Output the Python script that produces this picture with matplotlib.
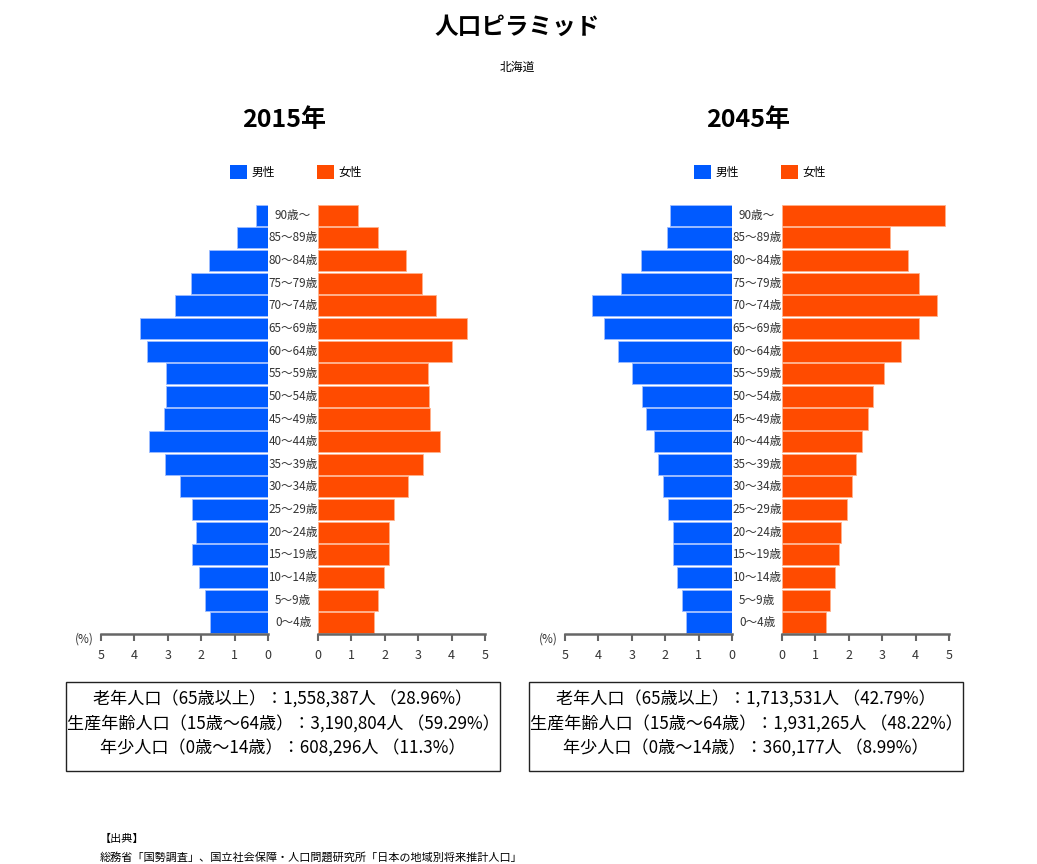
import matplotlib
matplotlib.use("Agg")
import matplotlib.pyplot as plt
from matplotlib.patches import Patch, Rectangle
from matplotlib.transforms import blended_transform_factory

plt.rcParams['font.family'] = ['Noto Sans CJK JP', 'DejaVu Sans']

ages = ['0～4歳', '5～9歳', '10～14歳', '15～19歳', '20～24歳', '25～29歳',
        '30～34歳', '35～39歳', '40～44歳', '45～49歳', '50～54歳', '55～59歳',
        '60～64歳', '65～69歳', '70～74歳', '75～79歳', '80～84歳', '85～89歳', '90歳～']

# percent of total population, youngest first
male_2015 = [1.75, 1.90, 2.06, 2.27, 2.17, 2.27, 2.62, 3.07, 3.57, 3.11,
             3.05, 3.05, 3.62, 3.83, 2.78, 2.30, 1.76, 0.94, 0.35]
female_2015 = [1.67, 1.81, 1.99, 2.13, 2.14, 2.29, 2.68, 3.14, 3.66, 3.35,
               3.32, 3.29, 4.01, 4.46, 3.53, 3.10, 2.62, 1.81, 1.20]
male_2045 = [1.37, 1.51, 1.66, 1.78, 1.78, 1.91, 2.07, 2.21, 2.34, 2.58,
             2.69, 3.00, 3.41, 3.84, 4.18, 3.31, 2.72, 1.96, 1.85]
female_2045 = [1.31, 1.45, 1.58, 1.71, 1.78, 1.96, 2.10, 2.23, 2.40, 2.56,
               2.73, 3.05, 3.57, 4.11, 4.64, 4.11, 3.78, 3.24, 4.87]

years = ['2015年', '2045年']
summary_2015 = ['老年人口（65歳以上）：1,558,387人 （28.96%）',
                '生産年齢人口（15歳～64歳）：3,190,804人 （59.29%）',
                '年少人口（0歳～14歳）：608,296人 （11.3%）']
summary_2045 = ['老年人口（65歳以上）：1,713,531人 （42.79%）',
                '生産年齢人口（15歳～64歳）：1,931,265人 （48.22%）',
                '年少人口（0歳～14歳）：360,177人 （8.99%）']

male_color = '#005AFF'
female_color = '#FF4B00'
text_color = '#333333'

W, H = 1037, 864
fig = plt.figure(figsize=(W / 100, H / 100), dpi=100)


def fx(px):
    return px / W


def fy(py):
    return 1 - py / H


fig.text(fx(517), fy(27), '人口ピラミッド', ha='center', va='center',
         fontsize=17, fontweight='bold', color='black')
fig.text(fx(517), fy(67), '北海道', ha='center', va='center', fontsize=8.5, color='black')

panels = [
    (101, 318, 293, male_2015, female_2015, years[0], summary_2015, 66),
    (565, 782, 757, male_2045, female_2045, years[1], summary_2045, 529),
]

ypos = list(range(len(ages)))
bottom = fy(634)
height = 430 / H

for mx, fxl, cx, male, female, year, summary, boxx in panels:
    ax_m = fig.add_axes([fx(mx), bottom, fx(167), height])
    ax_f = fig.add_axes([fx(fxl), bottom, fx(167), height])

    ax_m.barh(ypos, male, height=0.93, color=male_color,
              edgecolor='#9dbcff', linewidth=0.6)
    ax_f.barh(ypos, female, height=0.93, color=female_color,
              edgecolor='#ffb08a', linewidth=0.6)

    ax_m.set_xlim(5, 0)
    ax_f.set_xlim(0, 5)
    for ax in (ax_m, ax_f):
        ax.set_ylim(-0.5, len(ages) - 0.5)
        ax.set_yticks([])
        ax.set_xticks(range(6))
        for s in ('top', 'left', 'right'):
            ax.spines[s].set_visible(False)
        ax.spines['bottom'].set_color('#666666')
        ax.spines['bottom'].set_linewidth(1.8)
        ax.tick_params(axis='x', colors='#666666', length=5, width=1.5,
                       labelcolor=text_color, labelsize=9, pad=6)

    trans = blended_transform_factory(fig.transFigure, ax_m.transData)
    for y, lab in zip(ypos, ages):
        ax_m.text(fx(cx), y, lab, transform=trans, ha='center', va='center',
                  fontsize=8.4, color=text_color)

    fig.text(fx(mx - 7), fy(639), '(%)', ha='right', va='center',
             fontsize=8.5, color=text_color)

    center = (mx + fxl + 167) / 2
    fig.text(fx(center - 9), fy(120), year, ha='center', va='center',
             fontsize=18, fontweight='bold', color='black')

    handles = [Patch(facecolor=male_color, label='男性'),
               Patch(facecolor=female_color, label='女性')]
    fig.legend(handles=handles, loc='center', ncol=2,
               bbox_to_anchor=(fx(center + 3), fy(172)), frameon=False,
               fontsize=8.5, handlelength=1.4, handleheight=1.4,
               handletextpad=0.4, columnspacing=3.6)

    fig.add_artist(Rectangle((fx(boxx), fy(771)), fx(434), 89 / H,
                             transform=fig.transFigure, fill=False,
                             edgecolor='#222222', linewidth=1))
    for i, line in enumerate(summary):
        fig.text(fx(boxx + 217), fy(700 + 24.5 * i), line, ha='center',
                 va='center', fontsize=12.3, color='black')

fig.text(fx(100), fy(839), '【出典】', ha='left', va='center', fontsize=8, color='black')
fig.text(fx(100), fy(857),
         '総務省「国勢調査」、国立社会保障・人口問題研究所「日本の地域別将来推計人口」',
         ha='left', va='center', fontsize=8, color='black')

fig.savefig('out.png', dpi=100, facecolor='white')
